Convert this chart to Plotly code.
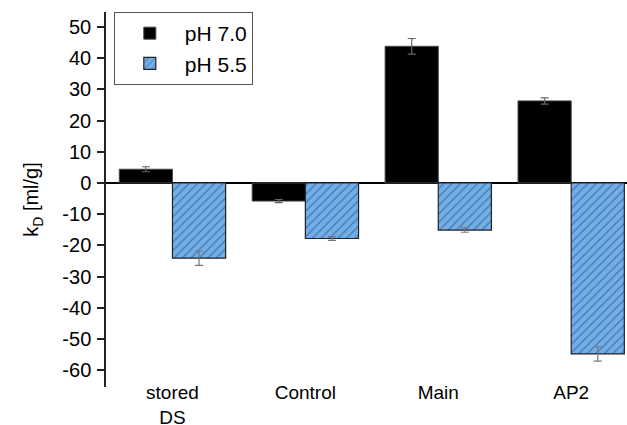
import plotly.graph_objects as go

categories = ["stored<br>DS", "Control", "Main", "AP2"]
ph70_values = [4.4, -5.8, 43.8, 26.3]
ph70_errors = [0.8, 0.5, 2.5, 1.0]
ph55_values = [-24.1, -17.8, -15.1, -54.8]
ph55_errors = [2.3, 0.6, 0.7, 2.3]
y_ticks = [50, 40, 30, 20, 10, 0, -10, -20, -30, -40, -50, -60]
y_tick_labels = ["50", "40", "30", "20", "10", "0", "-10", "-20", "-30", "-40", "-50", "-60"]

fig = go.Figure()
fig.add_trace(go.Bar(
    x=categories, y=ph70_values, name="pH 7.0",
    marker=dict(color="black", line=dict(color="#444444", width=1)),
    error_y=dict(type="data", array=ph70_errors, color="#666666", thickness=1.2, width=4),
))
fig.add_trace(go.Bar(
    x=categories, y=ph55_values, name="pH 5.5",
    marker=dict(color="#72aeea", line=dict(color="#222222", width=1.2),
                pattern=dict(shape="/", fgcolor="#1e3c5c", bgcolor="#72aeea", size=6, solidity=0.2)),
    error_y=dict(type="data", array=ph55_errors, color="#777777", thickness=1.2, width=4),
))

font = "Liberation Sans, Arial, sans-serif"
fig.update_layout(
    width=627, height=425,
    margin=dict(l=106, r=0, t=12, b=38),
    paper_bgcolor="white", plot_bgcolor="white",
    barmode="group", bargap=0.2, bargroupgap=0,
    font=dict(family=font, size=19, color="black"),
    showlegend=True,
    legend=dict(x=0.015, y=1.0, xanchor="left", yanchor="top",
                bordercolor="#555555", borderwidth=1, bgcolor="white",
                font=dict(size=21), itemwidth=60, tracegroupgap=0),
    xaxis=dict(range=[-0.5, 3.42], showline=False, ticks="", showgrid=False,
               automargin=False, ticklabelstandoff=-8,
               tickfont=dict(size=19)),
    yaxis=dict(range=[-65.4, 54.8], tickvals=y_ticks, ticktext=y_tick_labels,
               showline=True, linecolor="#222222",
               linewidth=1.5, ticks="outside", ticklen=7, tickwidth=1.5, tickcolor="#222222",
               showgrid=False, zeroline=True, zerolinecolor="black", zerolinewidth=1.5,
               automargin=False, ticklabelstandoff=2,
               title=dict(text="k<sub>D</sub> [ml/g]", font=dict(size=20), standoff=18),
               tickfont=dict(size=20)),
)
fig.write_html("out.html")
